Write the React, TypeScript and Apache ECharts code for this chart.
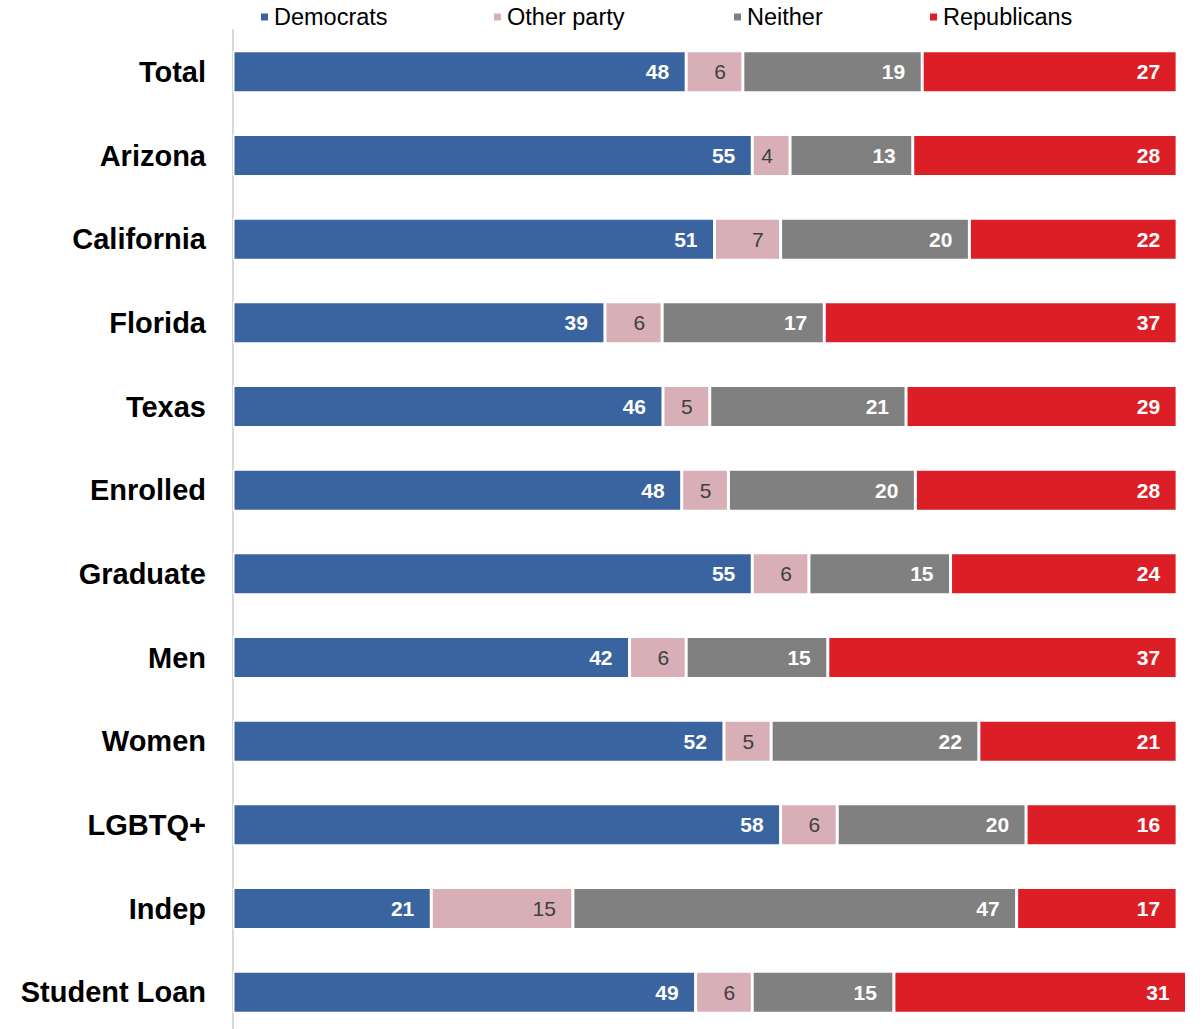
import React, { useEffect, useRef } from "react";
import * as echarts from "echarts";

const categories = ["Total", "Arizona", "California", "Florida", "Texas", "Enrolled", "Graduate", "Men", "Women", "LGBTQ+", "Indep", "Student Loan"];
const democrats = [48, 55, 51, 39, 46, 48, 55, 42, 52, 58, 21, 49];
const otherParty = [6, 4, 7, 6, 5, 5, 6, 6, 5, 6, 15, 6];
const neither = [19, 13, 20, 17, 21, 20, 15, 15, 22, 20, 47, 15];
const republicans = [27, 28, 22, 37, 29, 28, 24, 37, 21, 16, 17, 31];
// rows drawn as 100% shares (the reference normalises every row except the last)
const normalised = [true, true, true, true, true, true, true, true, true, true, true, false];

const seriesNames = ["Democrats", "Other party", "Neither", "Republicans"];
const colors = ["#3A64A0", "#D9AFB7", "#808080", "#DC1F27"];
const legendX = [259, 492, 732, 928];

export default function App() {
  const ref = useRef<HTMLDivElement>(null);
  useEffect(() => {
    document.body.style.margin = "0";
    document.body.style.overflow = "hidden";
    const chart = echarts.init(ref.current!, null, { renderer: "svg" });
    const datas = [democrats, otherParty, neither, republicans];
    const totals = categories.map((_, r) =>
      normalised[r] ? datas.reduce((s, d) => s + d[r], 0) : 100
    );
    const font = "Arial, 'Liberation Sans', sans-serif";
    chart.setOption({
      animation: false,
      textStyle: { fontFamily: font },
      legend: seriesNames.map((n, i) => ({
        data: [n],
        left: legendX[i],
        top: 5,
        icon: "rect",
        itemWidth: 9,
        itemHeight: 9,
        itemGap: 7,
        padding: 0,
        textStyle: { fontSize: 23.5, color: "#000", fontFamily: font, padding: [0, 0, 0, 0] },
        selectedMode: false,
      })),
      grid: { left: 233, right: 8, top: 30, height: 1004 },
      xAxis: {
        type: "value",
        min: 0,
        max: 102,
        show: false,
      },
      yAxis: {
        type: "category",
        data: categories,
        inverse: true,
        axisLine: { show: true, lineStyle: { color: "#D9D9D9", width: 2 } },
        axisTick: { show: false },
        axisLabel: { fontSize: 29, fontWeight: "bold", color: "#000", margin: 27, fontFamily: font },
      },
      series: seriesNames.map((n, i) => ({
        name: n,
        type: "bar",
        stack: "total",
        barWidth: 42,
        data: datas[i].map((v, r) => (v / totals[r]) * 100),
        itemStyle: { color: colors[i], borderColor: "#fff", borderWidth: 1.5 },
        label: {
          show: true,
          position: "insideRight",
          distance: 17,
          fontSize: 21,
          fontFamily: font,
          fontWeight: i === 1 ? "normal" : "bold",
          color: i === 1 ? "#404040" : "#fff",
          formatter: (p: any) => String(datas[i][p.dataIndex]),
        },
      })),
    });
    return () => chart.dispose();
  }, []);
  return <div ref={ref} style={{ width: 1204, height: 1040 }} />;
}
